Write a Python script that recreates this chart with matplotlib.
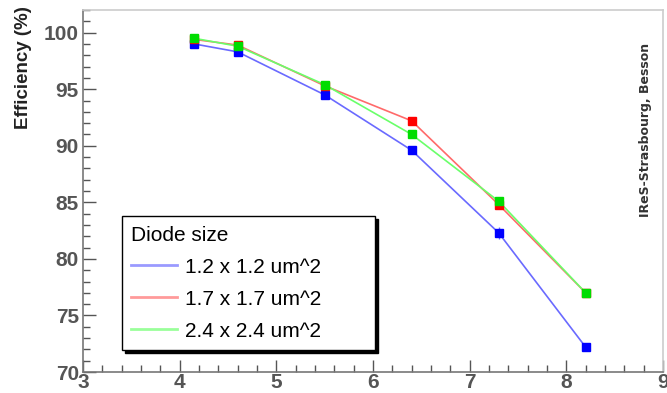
import matplotlib
matplotlib.use("Agg")
import matplotlib.pyplot as plt
from matplotlib.ticker import MultipleLocator
from matplotlib.lines import Line2D

plt.rcParams['font.family'] = ['Liberation Sans', 'DejaVu Sans']

x = [4.15, 4.6, 5.5, 6.4, 7.3, 8.2]
eff_12 = [99.0, 98.3, 94.5, 89.6, 82.3, 72.2]
eff_17 = [99.4, 98.9, 95.3, 92.2, 84.8, 77.0]
eff_24 = [99.5, 98.8, 95.4, 91.0, 85.1, 77.0]
err_12 = [0.2, 0.2, 0.2, 0.3, 0.5, 0.3]
labels = ["1.2 x 1.2 um^2", "1.7 x 1.7 um^2", "2.4 x 2.4 um^2"]

series = [eff_12, eff_17, eff_24]
mcolors = ['#0000ff', '#ff0000', '#00dd00']
lcolors = ['#6a6aff', '#ff6a6a', '#6aff6a']
legcolors = ['#9a9aff', '#ff9a9a', '#9aff9a']

fig = plt.figure(figsize=(6.67, 3.93), dpi=100)
ax = fig.add_axes([83/667, 21/393, 580/667, 362/393])

for i, (s, mc, lc) in enumerate(zip(series, mcolors, lcolors)):
    ax.plot(x, s, color=lc, lw=1.2, zorder=2)
    if i == 0:
        ax.errorbar(x, s, yerr=err_12, fmt='none', ecolor=lc, elinewidth=1, zorder=2)
    ax.plot(x, s, ls='none', marker='s', ms=6, color=mc, mec=mc, zorder=3)

ax.set_xlim(3, 9)
ax.set_ylim(70, 102)
ax.xaxis.set_major_locator(MultipleLocator(1))
ax.xaxis.set_minor_locator(MultipleLocator(0.2))
ax.yaxis.set_major_locator(MultipleLocator(5))
ax.yaxis.set_minor_locator(MultipleLocator(1))
ax.tick_params(which='both', direction='in', color='#555555', top=False, right=False)
ax.tick_params(which='major', length=9, width=1, labelsize=15, labelcolor='#555555', pad=3)
ax.tick_params(axis='x', which='major', pad=1)
ax.tick_params(which='minor', length=5, width=1)
for lab in ax.get_xticklabels() + ax.get_yticklabels():
    lab.set_fontweight('bold')
for sp in ax.spines.values():
    sp.set_color('#777777')
    sp.set_linewidth(1.2)
for sp in ['top', 'right']:
    ax.spines[sp].set_color('#cccccc')

ax.set_ylabel('Efficiency (%)', fontsize=13.5, fontweight='bold', color='#222222',
              loc='top', labelpad=8)
ax.yaxis.set_label_coords(-0.088, 1.01)
fig.text(646/667, 1 - 130/393, 'IReS-Strasbourg, Besson', rotation=90, fontsize=9,
         family='DejaVu Sans', fontweight='bold', color='#333333', ha='center', va='center')

handles = [Line2D([], [], color='none', label='Diode size')] + \
          [Line2D([], [], color=c, lw=2, label=l) for c, l in zip(legcolors, labels)]
leg = ax.legend(handles=handles, loc='lower left', bbox_to_anchor=(0.067, 0.061, 0.436, 0.373),
                mode='expand', fontsize=15, frameon=True, fancybox=False,
                shadow={'color': 'black', 'alpha': 1.0}, borderaxespad=0,
                handlelength=2.2, handletextpad=0.4, labelspacing=0.62, borderpad=0.45)
leg.get_frame().set_edgecolor('black')
leg.get_frame().set_linewidth(1.0)
leg.get_texts()[0].set_position((-54, 0))

fig.savefig('out.png', dpi=100)
